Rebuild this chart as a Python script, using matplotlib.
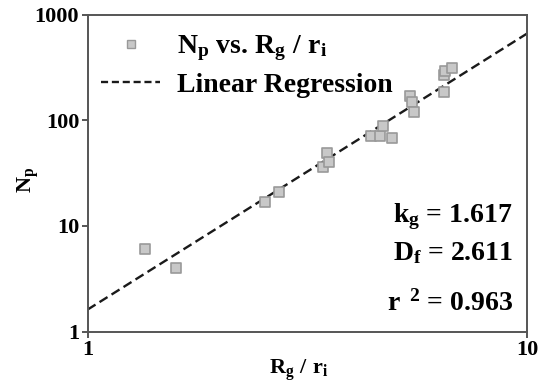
import numpy as np
import matplotlib
matplotlib.use("Agg")
import matplotlib.pyplot as plt
from matplotlib.lines import Line2D

plt.rcParams['font.family'] = ['Liberation Serif', 'DejaVu Serif']
plt.rcParams['font.weight'] = 'bold'
plt.rcParams['mathtext.fontset'] = 'custom'
plt.rcParams['mathtext.rm'] = 'Liberation Serif:bold'
plt.rcParams['mathtext.it'] = 'Liberation Serif:bold'
plt.rcParams['mathtext.bf'] = 'Liberation Serif:bold'

# Measured aggregates: radius of gyration ratio vs. number of primary particles
rg_ri = [1.35, 1.59, 2.53, 2.73, 3.44, 3.50, 3.55, 4.42, 4.63, 4.71, 4.93,
         5.41, 5.47, 5.54, 6.47, 6.49, 6.52, 6.76]
n_p = [6.0, 4.0, 17.0, 20.9, 35.8, 49.3, 40.2, 70.8, 70.8, 87.5, 67.3,
       169.5, 147.6, 120.5, 186.0, 270.0, 294.6, 310.0]

# Fitted power law N_p = k_g * (R_g / r_i) ** D_f
k_g = 1.617
d_f = 2.611
r_sq = 0.963

x_ticks = [1, 10]
y_ticks = [1, 10, 100, 1000]

fig = plt.figure(figsize=(5.46, 3.89), dpi=100)
ax = fig.add_axes([0.1603, 0.1473, 0.8049, 0.8154])
ax.set_xscale('log')
ax.set_yscale('log')
ax.set_xlim(1, 10)
ax.set_ylim(1, 1000)

axis_col = '#555555'
for sp in ax.spines.values():
    sp.set_color(axis_col)
    sp.set_linewidth(1.4)

ax.set_xticks(x_ticks)
ax.set_xticklabels([str(t) for t in x_ticks])
ax.set_yticks(y_ticks)
ax.set_yticklabels([str(t) for t in y_ticks])
ax.minorticks_off()
ax.tick_params(axis='both', which='major', direction='out', length=4,
               width=1.4, color=axis_col, labelsize=16, pad=2)
for lab in ax.get_xticklabels() + ax.get_yticklabels():
    lab.set_fontweight('bold')

xfit = np.array([1.0, 10.0])
yfit = k_g * xfit ** d_f
ax.plot(xfit, yfit, color='#1a1a1a', lw=1.7, dashes=(4, 2), zorder=2)

ax.scatter(rg_ri, n_p, marker='s', s=58, facecolor='#c8c8c8',
           edgecolor='#999999', linewidths=1.2, zorder=3)

handles = [
    Line2D([], [], ls='none', marker='s', markersize=6, markerfacecolor='#c8c8c8',
           markeredgecolor='#999999', markeredgewidth=1.0),
    Line2D([], [], color='#1a1a1a', lw=1.7, dashes=(3, 1.6)),
]
labels = [r'$\mathrm{N_p}$ vs. $\mathrm{R_g\ /\ r_i}$', 'Linear Regression']
ax.legend(handles, labels, loc='upper left', bbox_to_anchor=(0.031, 0.94),
          frameon=False, handlelength=2.12, handletextpad=0.61,
          labelspacing=0.33, borderpad=0, borderaxespad=0,
          prop={'family': 'Liberation Serif', 'weight': 'bold', 'size': 20})

ax.text(0.968, 0.346, r'$\mathrm{k_g}$ = %.3f' % k_g, transform=ax.transAxes,
        ha='right', va='baseline', fontsize=20, fontweight='bold')
ax.text(0.968, 0.226, r'$\mathrm{D_f}$ = %.3f' % d_f, transform=ax.transAxes,
        ha='right', va='baseline', fontsize=20, fontweight='bold')
ax.text(0.968, 0.068, r'$\mathrm{r}^{\;\ 2}$ = %.3f' % r_sq, transform=ax.transAxes,
        ha='right', va='baseline', fontsize=20, fontweight='bold')

ax.set_xlabel(r'$\mathrm{R_g\ /\ r_i}$', fontsize=16)
ax.set_ylabel(r'$\mathrm{N_p}$', fontsize=16)
ax.xaxis.set_label_coords(0.481, -0.08)
ax.yaxis.set_label_coords(-0.106, 0.478)

fig.savefig('out.png', dpi=100)
